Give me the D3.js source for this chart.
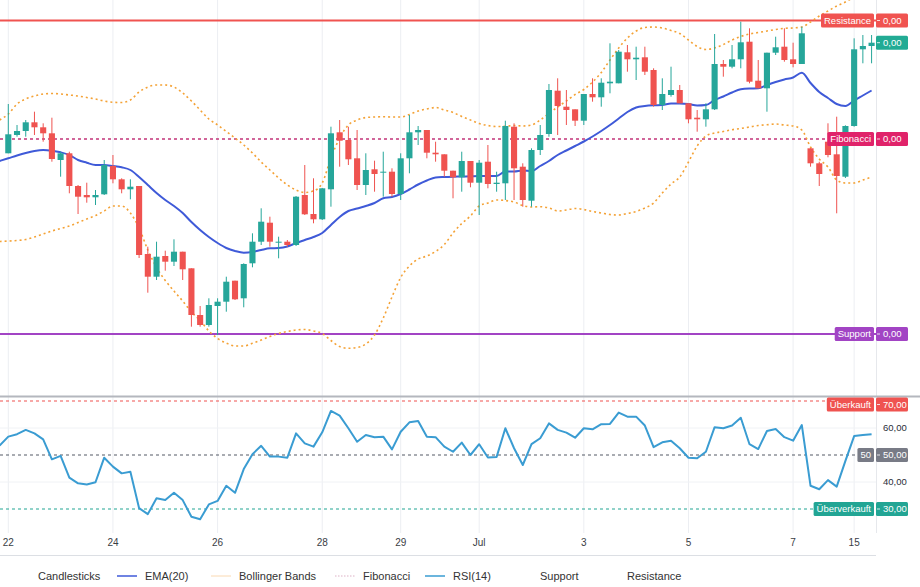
<!DOCTYPE html>
<html><head><meta charset="utf-8">
<script src="https://cdn.jsdelivr.net/npm/d3@7"></script>
<style>
body{margin:0;background:#fff;}
svg{display:block;font-family:"Liberation Sans",Arial,sans-serif;}
</style>
</head><body>
<svg id="chart" width="920" height="587"></svg>
<script>
// ---------- DATA (prices in units of 1e-5) ----------
const PRICE_UNIT = 1e-5;
const tickIndex  = [0, 12, 24, 36, 45, 54, 66, 78, 90, 97];
const tickLabels = ["22", "24", "26", "28", "29", "Jul", "3", "5", "7", "15"];

const open = [246.7,265,269,277.7,272.7,266.7,240,246.7,214,205,
202.7,205.7,234,220.7,210.7,214,146,123.3,144,138.3,
148.3,131.7,85,75,94,98.3,119.3,101.7,136.7,158.3,
177.3,157.3,158.3,155,205,186,180.7,210.7,267.7,260,
241.7,215,230.7,227.3,228.3,206,241.7,267.7,270,247.3,
245.7,229.3,222.7,239,217.3,238.3,216,216.7,273.3,233.3,
199.3,250,266,309.3,293.3,290.7,279.3,306,302.7,316.7,
316.7,347.7,340.7,342.7,330,295,305,310,296.7,282.3,
280.7,290.7,336,333.3,340.7,358.3,319.3,311.7,347.3,353.3,
340.7,336,251.7,236.7,258.3,245.7,223.3,274,350.7,354];
const close = [265.7,269,277.7,272.7,266.7,241,246.7,214,203.3,202.7,
205,235,220.7,210.7,213.3,145,123.3,143.3,138.3,148.3,
130.7,85,75,95,98.3,118.3,100.7,136,158.3,178.3,
158.3,158.3,155,203.3,185.7,180.7,211.7,266.7,259.3,240.7,
215,230,226,228.3,206,241.7,267.7,270,247.3,245.7,
229.3,222.7,239,217.3,237.3,216,217.3,274,231.7,200,
250,265,310,294,290,279.3,306,302.7,317.3,318.3,
348.3,340.7,342.3,328.3,295,306,310,296.7,280.7,280.7,
290.7,336,333.3,340.7,357.7,318.3,311.7,347.3,352.7,340,
336,366.7,236.7,226,245,224,274,350.7,354,357.3];
const high = [296,275,280,288.3,276.7,282.3,248.3,248.3,215,217.3,
210,240,245,221.7,220.7,214,153.3,158.3,149.3,160.7,
148.3,131.7,94,101.7,101.7,123.3,119.3,136.7,166.7,191.7,
183.3,163.3,160,204,235,221.7,212,273.3,280,273.3,
270,246.7,239.3,248.3,231.7,246.7,285,274,270,258.3,
245.7,229.3,248.3,239,240,255,228.3,279.3,276.7,236.7,
251.7,275,316,321.7,310,290.7,306,321.7,321.7,356.7,
350,355,353.3,353.3,331.7,321.7,333.3,315,296.7,290,
296.7,366,340,355,378.3,371.7,340,347.3,363.3,371.7,
357.3,373.3,251.7,238.3,276.7,283.3,274.7,361.7,365,365];
const low = [246.7,263.3,263.3,265,258.3,238.3,223.3,206.7,186,197.3,
195,205,216.7,206.7,200.7,142,107.3,120,129.3,134,
120,73.3,73.3,73.3,65,88.3,100,92.7,132.7,155,
153.3,141.7,153.3,154,185,176.7,180,193.3,233.3,235,
210,205,208.3,203.3,203.3,200,226.7,255,241.7,238.3,
223.3,201.7,208.3,212.7,185,211.7,208.3,200,200,193.3,
193.3,245,263.3,265,275,274,275,298.3,293.3,306.7,
316.7,328.3,320,325,293.3,290,303.3,296.7,276.7,268.3,
273.3,290,323.3,331.7,331.7,316.7,311.7,288.3,345,338.3,
332.7,336,233.3,214,242.7,186.7,222,273.3,336.7,336.7];

// indicator values; the first entry belongs to the candle just left of the visible window
const ema20 = [239,241.7,244.5,247,249,250,249.3,247.7,245,240,237.3,
235,235,234,232.7,230,223,215,207,200,194,
187,178,170,163,157,152,149,147.3,148,150,
151.7,152,153.5,157,160,163,167,175,183,189,
191.5,194,197,201.7,203,206,210.5,215.5,219.5,222.5,
223,223.3,223.5,223.7,224,224,224,228.5,228.5,229.5,
229,234,239,245,249.5,254,258.5,263.5,269,275,
281.5,288,292.5,294,294.7,295,296.5,296.5,296,294.5,
295,300,303.5,307.5,310.7,311.5,311.7,315,318,320.5,
322.5,327.3,317,308,302,296,294,299.5,304.5,309.5];

const bbUpper = [280,286,296,301,304,306,306.5,306,305,304,302.5,
301,299,297.7,297.5,300,308,313,315,315,313,
307,299,290,281,275,268.5,262,255,247,238,
230,222,215,210,207.5,209,217,242,262,275,
280,282.5,283,283.3,283,283,285.5,289,291,292.5,
290,287.5,283.5,280,276.5,274.5,273.5,273.7,274.5,274,
275,280,286.5,293,299,305.5,310.5,318,327.5,340,
352,362,369,372.5,373,372,369.5,366.5,360,353.5,
350.5,352,355.5,360,363.5,366,367.5,369,370.5,371.7,
372,373,378,384,389,394,398,403,407,410];

const bbLower = [158.5,159,159.5,160.5,163,166,169,171.5,174,177.5,181,
184.5,189,194,194,187,172,150,132.5,119.5,109,
99,88,79.5,69,61.5,57,54,54,56.7,60,
63.5,66.5,68.5,70,70.5,69,66.5,59.5,53.5,51.7,
52.5,56,65,82,103,122.5,134,141,144,148.5,
155.5,167,176.5,184,194,197,200,199.5,198,194.5,
193,193.3,192,189,190,191.5,190.5,188.5,187,185.5,
185,186.5,188.5,192,197,207,216,223,238,254,
264,267,268.5,270.3,271.5,273,274.5,275.2,276,275,
274,270,253,241,233,220,217,217,220,223];

const rsi14 = [53.5,56.8,57.7,59.3,58.0,55.8,48.4,49.7,41.6,39.5,39.1,
39.9,49.0,45.7,43.2,43.8,30.3,28.1,34.0,33.3,36.0,
33.3,27.1,26.2,31.7,33.0,38.6,36.0,44.8,50.3,53.4,
49.4,49.4,49.0,58.0,54.3,53.1,58.4,66.3,64.6,59.9,
54.9,57.4,56.6,56.8,52.1,58.6,62.1,62.6,56.8,56.6,
53.1,51.2,54.6,50.0,54.0,49.1,49.3,59.9,52.5,46.3,
54.0,56.2,61.7,59.3,58.3,56.4,59.9,59.5,61.4,61.5,
65.7,64.2,64.2,60.9,52.9,54.7,55.3,52.5,49.0,48.8,
51.2,60.3,59.9,60.9,63.8,54.0,52.2,58.9,59.6,56.6,
55.3,61.1,38.6,37.3,40.7,38.3,47.8,57.0,57.4,57.7];

const priceLevels = [
  {name: "Resistance", value: 379.5, color: "#f05350", label: "#f05350", dash: null},
  {name: "Fibonacci",  value: 261,   color: "#c2347a", label: "#e0236a", dash: "3,3"},
  {name: "Support",    value: 66,    color: "#a244c4", label: "#a244c4", dash: null}
];
const rsiLevels = [
  {name: "Überkauft",    value: 70, color: "#ef5350", line: "#ef5350"},
  {name: "50",           value: 50, color: "#787b86", line: "#555a66"},
  {name: "Überverkauft", value: 30, color: "#22a594", line: "#22a594"}
];
const rsiTicks = [60, 40];
const legendItems = [
  {name: "Candlesticks",    sym: null},
  {name: "EMA(20)",         sym: "ema"},
  {name: "Bollinger Bands", sym: "bb"},
  {name: "Fibonacci",       sym: "fib"},
  {name: "RSI(14)",         sym: "rsi"},
  {name: "Support",         sym: null},
  {name: "Resistance",      sym: null}
];

// ---------- LAYOUT ----------
const PW = 876, MAIN_BOTTOM = 395, RSI_TOP = 397, RSI_BOTTOM = 533;
const UP = "#26a69a", DOWN = "#ef5350";
const EMA_COLOR = "#3f5ad8", RSI_COLOR = "#3a9cd2", BB_COLOR = "#f4a236";

const loc = d3.formatLocale({decimal: ",", thousands: ".", grouping: [3], currency: ["", ""]});
const fmt = loc.format(",.2f");

const svg = d3.select("#chart");
const n = close.length;
const x = d3.scaleBand().domain(d3.range(n)).range([3.94, 875.94]).paddingInner(0.3).paddingOuter(0.15);
const cx = i => x(i) + x.bandwidth() / 2;
// indicator arrays start one candle earlier (index -1)
const cxInd = k => cx(0) + (k - 1) * x.step();
const yP = d3.scaleLinear().domain([0, 400]).range([400, 0]);
const yR = d3.scaleLinear().domain([30, 70]).range([509, 401]);

// clip paths
const defs = svg.append("defs");
defs.append("clipPath").attr("id", "clipMain").append("rect").attr("x", 0).attr("y", 0).attr("width", PW).attr("height", MAIN_BOTTOM);
defs.append("clipPath").attr("id", "clipRsi").append("rect").attr("x", 0).attr("y", RSI_TOP).attr("width", PW).attr("height", RSI_BOTTOM - RSI_TOP);

// vertical grid
svg.append("g").selectAll("line").data(tickIndex).join("line")
  .attr("x1", d => cx(d)).attr("x2", d => cx(d))
  .attr("y1", 0).attr("y2", RSI_BOTTOM)
  .attr("stroke", "#eceef2").attr("stroke-width", 1);

// RSI horizontal grid
svg.append("g").selectAll("line").data(rsiTicks).join("line")
  .attr("x1", 0).attr("x2", PW)
  .attr("y1", d => yR(d)).attr("y2", d => yR(d))
  .attr("stroke", "#f0f2f5");

// price scale separator
svg.append("line").attr("x1", PW + 0.5).attr("x2", PW + 0.5).attr("y1", 0).attr("y2", RSI_BOTTOM)
  .attr("stroke", "#e6e8ec");

// pane separator
svg.append("line").attr("x1", 0).attr("x2", 920).attr("y1", 396.5).attr("y2", 396.5)
  .attr("stroke", "#b4b7be").attr("stroke-width", 2);

// ---------- MAIN PANE ----------
const main = svg.append("g").attr("clip-path", "url(#clipMain)");

main.selectAll("line.level").data(priceLevels).join("line").attr("class", "level")
  .attr("x1", 0).attr("x2", PW)
  .attr("y1", d => yP(d.value)).attr("y2", d => yP(d.value))
  .attr("stroke", d => d.color)
  .attr("stroke-width", d => d.dash ? 1.5 : 2)
  .attr("stroke-dasharray", d => d.dash);

const lineGen = arr => d3.line().x((d, k) => cxInd(k)).y(d => yP(d)).curve(d3.curveMonotoneX)(arr);
[bbUpper, bbLower].forEach(arr => {
  main.append("path").attr("d", lineGen(arr))
    .attr("fill", "none").attr("stroke", BB_COLOR).attr("stroke-width", 1.6)
    .attr("stroke-dasharray", "2,3");
});

main.append("path").attr("d", lineGen(ema20))
  .attr("fill", "none").attr("stroke", EMA_COLOR).attr("stroke-width", 2);

const candles = main.append("g").selectAll("g").data(d3.range(n)).join("g");
candles.append("line")
  .attr("x1", i => cx(i)).attr("x2", i => cx(i))
  .attr("y1", i => yP(high[i])).attr("y2", i => yP(low[i]))
  .attr("stroke", i => close[i] >= open[i] ? UP : DOWN).attr("stroke-width", 1);
candles.append("rect")
  .attr("x", i => x(i)).attr("width", x.bandwidth())
  .attr("y", i => yP(Math.max(open[i], close[i])))
  .attr("height", i => Math.max(1, Math.abs(yP(open[i]) - yP(close[i]))))
  .attr("fill", i => close[i] >= open[i] ? UP : DOWN);

// ---------- RSI PANE ----------
const rsiG = svg.append("g").attr("clip-path", "url(#clipRsi)");
rsiG.selectAll("line.rl").data(rsiLevels).join("line").attr("class", "rl")
  .attr("x1", 0).attr("x2", PW)
  .attr("y1", d => yR(d.value)).attr("y2", d => yR(d.value))
  .attr("stroke", d => d.line).attr("stroke-width", 1.2).attr("stroke-dasharray", "3,3");
rsiG.append("path")
  .attr("d", d3.line().x((d, k) => cxInd(k)).y(d => yR(d))(rsi14))
  .attr("fill", "none").attr("stroke", RSI_COLOR).attr("stroke-width", 2).attr("stroke-linejoin", "round");

svg.append("g").selectAll("text").data(rsiTicks).join("text")
  .attr("x", 883).attr("y", d => yR(d)).attr("dy", "0.35em")
  .attr("font-size", 9.5).attr("fill", "#2a2e39").text(d => fmt(d));

// ---------- LABELS ----------
function titleBox(yc, text, color) {
  const g = svg.append("g");
  const t = g.append("text").attr("font-size", 9.5).attr("fill", "#fff").attr("dy", "0.35em").text(text);
  const w = t.node().getComputedTextLength() + 6;
  g.insert("rect", "text").attr("x", 874 - w).attr("y", yc - 7).attr("width", w).attr("height", 14)
    .attr("rx", 1.5).attr("fill", color);
  t.attr("x", 874 - w + 3).attr("y", yc);
}
function priceBox(yc, text, color) {
  const g = svg.append("g");
  g.append("rect").attr("x", 876).attr("y", yc - 7).attr("width", 32).attr("height", 14)
    .attr("rx", 1.5).attr("fill", color);
  g.append("line").attr("x1", 877).attr("x2", 880).attr("y1", yc).attr("y2", yc)
    .attr("stroke", "#fff").attr("stroke-opacity", 0.8);
  g.append("text").attr("x", 883).attr("y", yc).attr("dy", "0.35em")
    .attr("font-size", 9.5).attr("fill", "#fff").text(text);
}
priceLevels.forEach(d => {
  const yc = Math.max(7.5, yP(d.value));
  titleBox(yc, d.name, d.label);
  priceBox(yc, fmt(d.value * PRICE_UNIT), d.label);
});
priceBox(yP(close[n - 1]), fmt(close[n - 1] * PRICE_UNIT), "#22ab94");
rsiLevels.forEach(d => {
  const yc = Math.min(RSI_BOTTOM - 7, Math.max(RSI_TOP + 7.5, yR(d.value)));
  titleBox(yc, d.name, d.color);
  priceBox(yc, fmt(d.value), d.color);
});

// ---------- X AXIS ----------
const xAxis = d3.axisBottom(x).tickValues(tickIndex)
  .tickFormat(d => tickLabels[tickIndex.indexOf(d)]).tickSize(0).tickPadding(0);
const ax = svg.append("g").attr("transform", "translate(0,539)").call(xAxis);
ax.select(".domain").remove();
ax.selectAll("text").attr("font-size", 10).attr("fill", "#3a3d45")
  .attr("font-family", "Liberation Sans, Arial, sans-serif").attr("dy", "0.71em");
svg.append("line").attr("x1", 0).attr("x2", PW).attr("y1", 555.5).attr("y2", 555.5).attr("stroke", "#dcdfe4");

// ---------- LEGEND ----------
const legendX = [38, 117, 211, 335, 425, 540, 627];
const lg = svg.append("g").attr("transform", "translate(0,576)");
legendItems.forEach((d, k) => {
  let tx = legendX[k];
  if (d.sym) {
    const sty = {
      ema: {c: EMA_COLOR, w: 1.5, dash: null, op: 1},
      bb:  {c: "#f8c992", w: 1, dash: null, op: 0.7},
      fib: {c: "#d9a8c0", w: 1, dash: "1.5,1.5", op: 0.9},
      rsi: {c: RSI_COLOR, w: 1.5, dash: null, op: 1}
    }[d.sym];
    lg.append("line").attr("x1", tx).attr("x2", tx + 20).attr("y1", 0).attr("y2", 0)
      .attr("stroke", sty.c).attr("stroke-width", sty.w).attr("stroke-dasharray", sty.dash)
      .attr("stroke-opacity", sty.op);
    tx += 28;
  }
  lg.append("text").attr("x", tx).attr("y", 0).attr("dy", "0.35em")
    .attr("font-size", 11).attr("fill", "#333").text(d.name);
});
</script>
</body></html>
